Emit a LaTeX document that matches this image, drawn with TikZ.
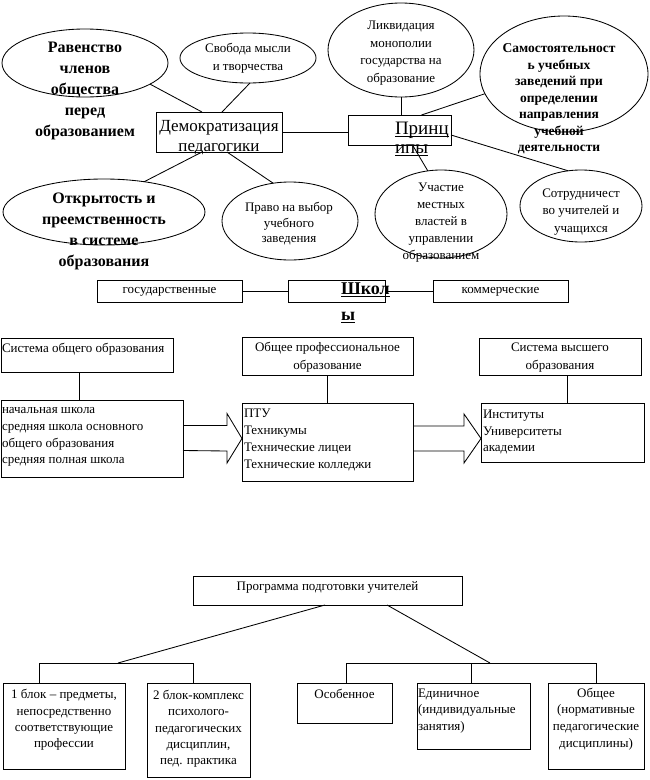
\documentclass[tikz,border=0pt]{standalone}
\usepackage{fontspec}
\setmainfont{Liberation Serif}
\usetikzlibrary{shapes.geometric,calc}
\newcommand\myul[1]{\leavevmode\setbox0=\hbox{#1}\rlap{\rule[-2.6pt]{\wd0}{1.3pt}}\box0}
\begin{document}
\begin{tikzpicture}[x=1pt,y=-1pt,
  every node/.style={inner sep=0pt, outer sep=0pt},
  ln/.style={line width=0.85pt},
  ell/.style={draw, ellipse, line width=0.85pt},
  bx/.style={draw, rectangle, line width=0.85pt, anchor=north west},
  tx/.style={font=\fontsize{13}{16.7}\selectfont, align=center},
  txl/.style={font=\fontsize{13}{16.7}\selectfont, align=left, anchor=west},
  btx/.style={font=\bfseries\fontsize{16}{21}\selectfont, align=center}]
\useasboundingbox (0,0) rectangle (649,780);
% ---------- top: ellipses ----------
\node[ell, minimum width=166pt, minimum height=68pt] (eq) at (85,63) {};
\node[btx] (eqT) at (85,91) {Равенство\\членов\\общества\\перед\\образованием};
\node[ell, minimum width=136pt, minimum height=50pt] (sv) at (248,58) {};
\node[tx, font=\fontsize{13}{18}\selectfont] (svT) at (248,58) {Свобода мысли\\и творчества};
\node[bx, minimum width=126pt, minimum height=40pt] (dem) at (156,112) {};
\node[font=\fontsize{17}{20}\selectfont, align=center] (demT) at (219,138) {Демократизация\\педагогики};
\node[ell, minimum width=146pt, minimum height=94pt] (lq) at (401,50) {};
\node[tx, font=\fontsize{13}{17.6}\selectfont] (lqT) at (401,53) {Ликвидация\\монополии\\государства на\\образование};
\node[ell, minimum width=168pt, minimum height=116pt] (sam) at (564,74) {};
\node[font=\bfseries\fontsize{13.5}{16.5}\selectfont, align=center] (samT) at (559,99) {Самостоятельност\\ь учебных\\заведений при\\определении\\направления\\учебной\\деятельности};
\node[bx, minimum width=103pt, minimum height=30pt] (pr) at (348,115) {};
\node[font=\fontsize{19}{19}\selectfont, align=left, anchor=west] (prT) at (395,139) {\myul{Принц}\\\myul{ипы}};
\node[ell, minimum width=132pt, minimum height=88pt] (uc) at (441,214) {};
\node[tx, font=\fontsize{13}{17}\selectfont] (ucT) at (441,223) {Участие\\местных\\властей в\\управлении\\образованием};
\node[ell, minimum width=122pt, minimum height=72pt] (so) at (581,206) {};
\node[tx, font=\fontsize{13}{17.5}\selectfont] (soT) at (581,212) {Сотрудничест\\во учителей и\\учащихся};
\node[ell, minimum width=202pt, minimum height=66pt] (ot) at (104,212) {};
\node[btx] (otT) at (104,231) {Открытость и\\преемственность\\в системе\\образования};
\node[ell, minimum width=136pt, minimum height=78pt] (pv) at (290,221) {};
\node[tx, font=\fontsize{13}{15.5}\selectfont] (pvT) at (289,224) {Право на выбор\\учебного\\заведения};
% connectors top
\draw[ln] (eq.-18) -- ([xshift=-17pt]dem.north);
\draw[ln] ([xshift=2pt]sv.south) -- ([xshift=3pt]dem.north);
\draw[ln] (dem.east) -- (dem.east -| pr.west);
\draw[ln] (lq.south) -- (lq.south |- pr.north);
\draw[ln] (sam.194) -- ([xshift=22pt]pr.north);
\draw[ln] ([yshift=-5pt]pr.east) -- (so.110);
\draw[ln] ([xshift=13pt]pr.south) -- (uc.107);
\draw[ln] ([xshift=-17pt]dem.south) -- (ot.37);
\draw[ln] ([xshift=8pt]dem.south) -- (pv.114);
% ---------- schools ----------
\node[bx, minimum width=145pt, minimum height=22pt] (gos) at (97,280) {};
\node[tx] (gosT) at (169.5,292) {государственные};
\node[bx, minimum width=97pt, minimum height=22pt] (sch) at (288,280) {};
\node[font=\bfseries\fontsize{18}{26}\selectfont, align=left, anchor=west] (schT) at (341,303) {\myul{Школ}\\\myul{ы}};
\node[bx, minimum width=135pt, minimum height=22pt] (kom) at (433,280) {};
\node[tx] (komT) at (500.5,292) {коммерческие};
\draw[ln] (gos.east) -- (sch.west);
\draw[ln] (sch.east) -- (kom.west);
% ---------- columns ----------
\node[bx, minimum width=172pt, minimum height=34pt] (sys1) at (1,338) {};
\node[txl] (sys1T) at (2,349) {Система общего образования};
\node[bx, minimum width=182pt, minimum height=77pt] (nach) at (1,400) {};
\node[txl] (nachT) at (2,437) {начальная школа\\средняя школа основного\\общего образования\\средняя полная школа};
\node[bx, minimum width=171pt, minimum height=38pt] (prof) at (242,337) {};
\node[tx, font=\fontsize{13}{18}\selectfont] (profT) at (327.5,357) {Общее профессиональное\\образование};
\node[bx, minimum width=171pt, minimum height=78pt] (ptu) at (242,403) {};
\node[txl] (ptuT) at (244,440) {ПТУ\\Техникумы\\Технические лицеи\\Технические колледжи};
\node[bx, minimum width=162pt, minimum height=37pt] (vys) at (479,338) {};
\node[tx, font=\fontsize{13}{18}\selectfont] (vysT) at (560,358) {Система высшего\\образования};
\node[bx, minimum width=163pt, minimum height=59pt] (inst) at (481,403) {};
\node[txl] (instT) at (483,432) {Институты\\Университеты\\академии};
\coordinate (c1) at ([xshift=-8pt]sys1.south);
\draw[ln] (c1) -- (c1 |- nach.north);
\draw[ln] (prof.south) -- (prof.south |- ptu.north);
\coordinate (c3) at ([xshift=7pt]vys.south);
\draw[ln] (c3) -- (c3 |- inst.north);
\draw[ln] ([yshift=13pt]nach.east) -- ++(44,0) -- ++(0,-12) -- (nach.east -| ptu.west) -- ++(-15,24.5) -- ++(0,-12) -- ([yshift=-12pt]nach.east);
\coordinate (a2) at (nach.east -| ptu.east);
\draw[ln] ([yshift=12.5pt]a2) -- ++(51,0) -- ++(0,-12) -- (a2 -| inst.west) -- ++(-17,24.5) -- ++(0,-12) -- ([yshift=-12.5pt]a2);
% ---------- bottom ----------
\node[bx, minimum width=269pt, minimum height=29pt] (prog) at (193,576) {};
\node[tx] (progT) at (327.5,587) {Программа подготовки учителей};
\node[bx, minimum width=122pt, minimum height=86pt] (b1) at (3,683) {};
\node[tx, font=\fontsize{13}{16.3}\selectfont] (b1T) at (64,720) {1 блок – предметы,\\непосредственно\\соответствующие\\профессии};
\node[bx, minimum width=103pt, minimum height=94pt] (b2) at (147,683) {};
\node[tx, font=\fontsize{13}{16.3}\selectfont] (b2T) at (198.5,729) {2 блок-комплекс\\психолого-\\педагогических\\дисциплин,\\пед. практика};
\node[bx, minimum width=95pt, minimum height=40pt] (b3) at (297,683) {};
\node[tx] (b3T) at (344.5,694) {Особенное};
\node[bx, minimum width=113pt, minimum height=66pt] (b4) at (417,683) {};
\node[txl] (b4T) at (418,711) {Единичное\\(индивидуальные\\занятия)};
\node[bx, minimum width=96pt, minimum height=86pt] (b5) at (548,683) {};
\node[tx] (b5T) at (596,719) {Общее\\(нормативные\\педагогические\\дисциплины)};
\coordinate (lj) at (118,663);
\coordinate (lh1) at (39,663);
\coordinate (lh2) at (193,663);
\draw[ln] ([xshift=-2.5pt]prog.south) -- (lj);
\draw[ln] (lh1 |- b1.north) -- (lh1) -- (lh2) -- (lh2 |- b2.north);
\coordinate (rj) at (490,663);
\coordinate (rh1) at (346,663);
\coordinate (rh2) at (471,663);
\coordinate (rh3) at (596,663);
\draw[ln] ([xshift=59.5pt]prog.south) -- (rj);
\draw[ln] (rh1 |- b3.north) -- (rh1) -- (rh3) -- (rh3 |- b5.north);
\draw[ln] (rh2) -- (rh2 |- b4.north);
\end{tikzpicture}
\end{document}
